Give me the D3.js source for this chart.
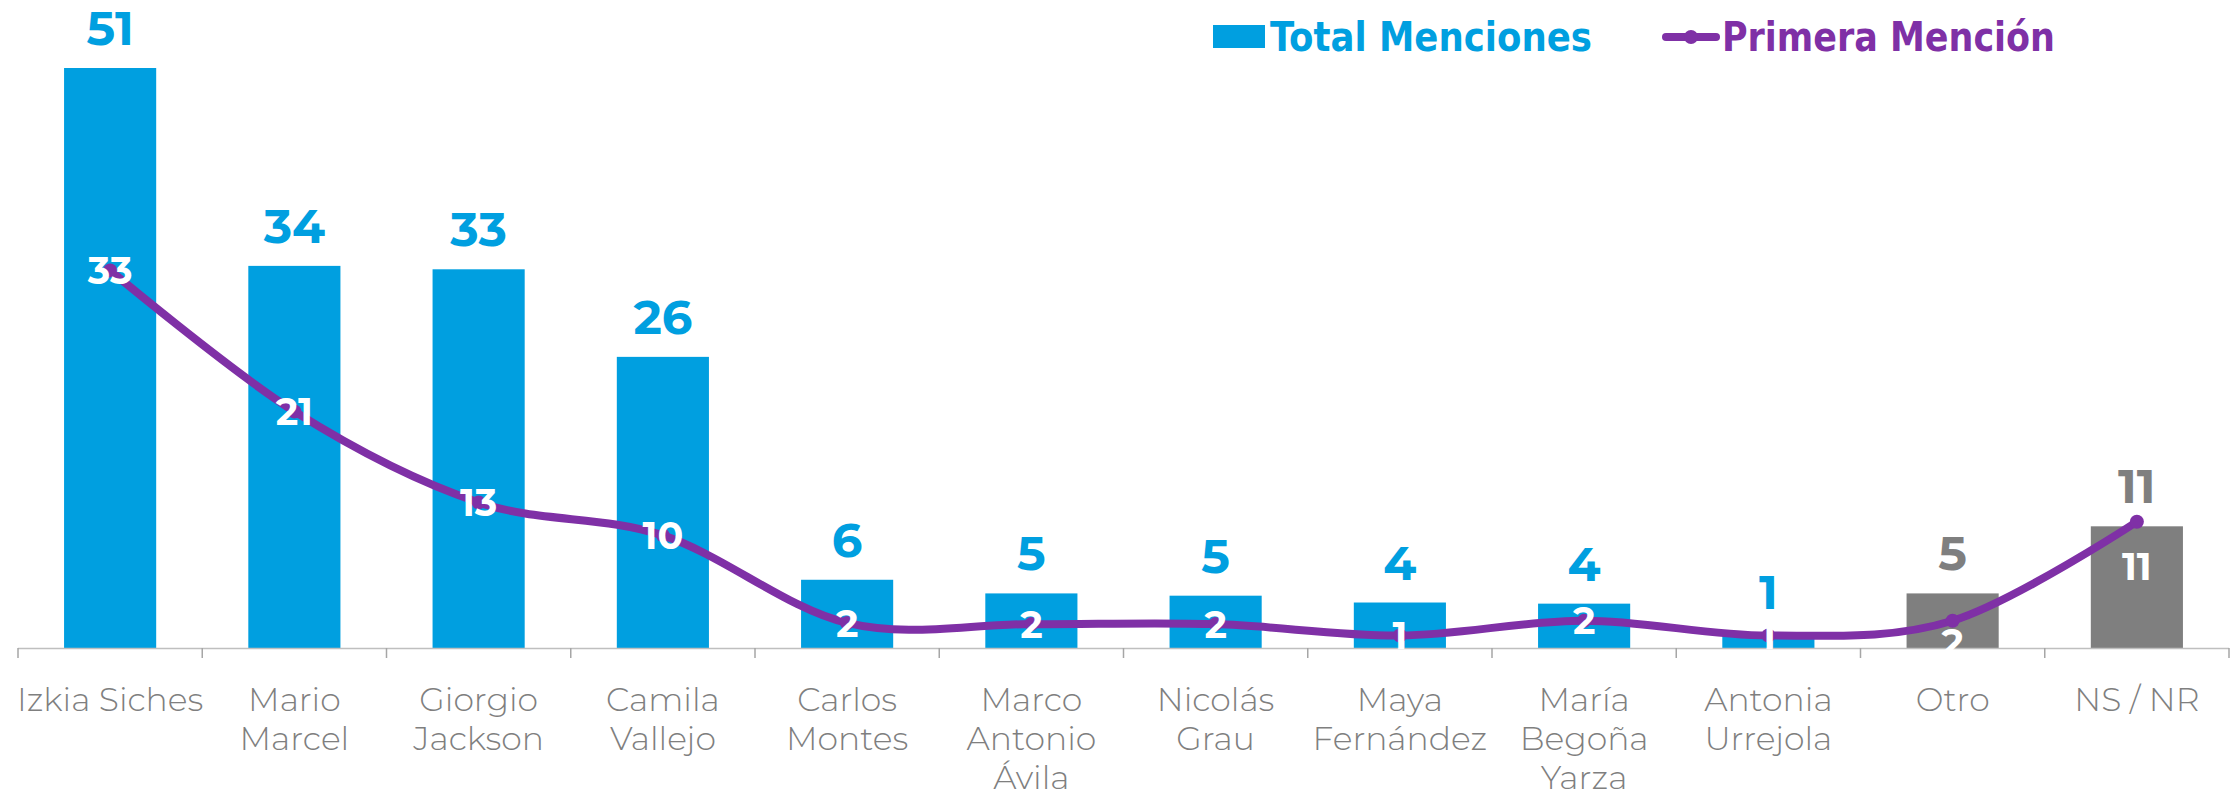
<!DOCTYPE html>
<html>
<head>
<meta charset="utf-8">
<script src="https://cdn.jsdelivr.net/npm/d3@7"></script>
<style>
  html, body { margin: 0; padding: 0; background: #fff; }
</style>
</head>
<body>
<div id="chart"></div>
<script>
const categories = ["Izkia Siches", "Mario Marcel", "Giorgio Jackson", "Camila Vallejo", "Carlos Montes",
  "Marco Antonio Ávila", "Nicolás Grau", "Maya Fernández", "María Begoña Yarza", "Antonia Urrejola",
  "Otro", "NS / NR"];
const catLines = [["Izkia Siches"], ["Mario", "Marcel"], ["Giorgio", "Jackson"], ["Camila", "Vallejo"],
  ["Carlos", "Montes"], ["Marco", "Antonio", "Ávila"], ["Nicolás", "Grau"], ["Maya", "Fernández"],
  ["María", "Begoña", "Yarza"], ["Antonia", "Urrejola"], ["Otro"], ["NS / NR"]];
const totalMenciones = [51, 33.6, 33.3, 25.6, 6.0, 4.8, 4.6, 4.0, 3.9, 1.4, 4.8, 10.7];
const primeraMencion = [33.2, 20.8, 12.8, 9.9, 2.2, 2.1, 2.1, 1.1, 2.4, 1.1, 2.4, 11.1];
const grayCats = ["Otro", "NS / NR"];
const seriesNames = ["Total Menciones", "Primera Mención"];

const width = 2234;
const height = 792;

const BLUE = "#009FE0";
const GRAY = "#7F7F7F";
const PURPLE = "#7F30A6";
const NUM_FONT = "Montserrat, 'Open Sans', sans-serif";

const svg = d3.select("#chart")
  .append("svg")
  .attr("width", width)
  .attr("height", height);

const x = d3.scaleBand()
  .domain(categories)
  .range([18, 2229]);

const y = d3.scaleLinear()
  .domain([0, d3.max(totalMenciones)])
  .range([648, 68]);

const fmt = d3.format(".0f");
const barW = x.bandwidth() * 0.5;
const cx = c => x(c) + x.bandwidth() / 2;

// a couple of line labels sit below their point in the original
const lineLabelDy = { "Otro": 22, "NS / NR": 45 };

const data = categories.map((c, i) => ({
  cat: c,
  lines: catLines[i],
  total: totalMenciones[i],
  first: primeraMencion[i],
  gray: grayCats.includes(c)
}));

// bars
svg.append("g")
  .selectAll("rect")
  .data(data)
  .enter()
  .append("rect")
  .attr("x", d => cx(d.cat) - barW / 2)
  .attr("y", d => y(d.total))
  .attr("width", barW)
  .attr("height", d => y(0) - y(d.total))
  .attr("fill", d => d.gray ? GRAY : BLUE);

// axis
const axis = svg.append("g");
axis.append("line")
  .attr("x1", x.range()[0])
  .attr("x2", x.range()[1])
  .attr("y1", y(0) + 0.5)
  .attr("y2", y(0) + 0.5)
  .attr("stroke", "#BFBFBF")
  .attr("stroke-width", 1.5);

const bounds = d3.range(categories.length + 1).map(i => x.range()[0] + i * x.step());
axis.selectAll("line.tick")
  .data(bounds)
  .enter()
  .append("line")
  .attr("class", "tick")
  .attr("x1", d => d)
  .attr("x2", d => d)
  .attr("y1", y(0))
  .attr("y2", y(0) + 10)
  .attr("stroke", "#A6A6A6")
  .attr("stroke-width", 1.5);

// category labels
const catText = svg.append("g")
  .selectAll("text")
  .data(data)
  .enter()
  .append("text")
  .attr("text-anchor", "middle")
  .attr("fill", GRAY)
  .style("font-family", NUM_FONT)
  .style("font-weight", 300)
  .style("font-size", "33px");

catText.selectAll("tspan")
  .data(d => d.lines.map(l => ({ l, x: cx(d.cat) })))
  .enter()
  .append("tspan")
  .attr("x", d => d.x)
  .attr("y", (d, i) => 711 + i * 39)
  .text(d => d.l);

// bar value labels
svg.append("g")
  .selectAll("text")
  .data(data)
  .enter()
  .append("text")
  .attr("x", d => cx(d.cat))
  .attr("y", d => y(d.total) - 23)
  .attr("text-anchor", "middle")
  .attr("fill", d => d.gray ? GRAY : BLUE)
  .style("font-family", NUM_FONT)
  .style("font-weight", 700)
  .style("font-size", "48px")
  .text(d => fmt(d.total));

// line
const line = d3.line()
  .x(d => cx(d.cat))
  .y(d => y(d.first))
  .curve(d3.curveCardinal.tension(0));

svg.append("path")
  .datum(data)
  .attr("d", line)
  .attr("fill", "none")
  .attr("stroke", PURPLE)
  .attr("stroke-width", 8)
  .attr("stroke-linecap", "round");

svg.append("g")
  .selectAll("circle")
  .data(data)
  .enter()
  .append("circle")
  .attr("cx", d => cx(d.cat))
  .attr("cy", d => y(d.first))
  .attr("r", 7)
  .attr("fill", PURPLE);

// line value labels
svg.append("g")
  .selectAll("text")
  .data(data)
  .enter()
  .append("text")
  .attr("x", d => cx(d.cat))
  .attr("y", d => y(d.first) + (lineLabelDy[d.cat] || 0))
  .attr("dy", "0.36em")
  .attr("text-anchor", "middle")
  .attr("fill", "#fff")
  .style("font-family", NUM_FONT)
  .style("font-weight", 700)
  .style("font-size", "38px")
  .text(d => fmt(d.first));

// legend
const legend = svg.append("g")
  .style("font-family", "'DejaVu Sans Condensed', 'DejaVu Sans', sans-serif")
  .style("font-stretch", "condensed")
  .style("font-weight", 700)
  .style("font-size", "40px");

legend.append("rect")
  .attr("x", 1213)
  .attr("y", 25)
  .attr("width", 52)
  .attr("height", 23)
  .attr("fill", BLUE);

legend.append("text")
  .attr("x", 1270)
  .attr("y", 51)
  .attr("fill", BLUE)
  .attr("textLength", 322)
  .attr("lengthAdjust", "spacingAndGlyphs")
  .text(seriesNames[0]);

legend.append("line")
  .attr("x1", 1666)
  .attr("x2", 1716)
  .attr("y1", 37)
  .attr("y2", 37)
  .attr("stroke", PURPLE)
  .attr("stroke-width", 8)
  .attr("stroke-linecap", "round");

legend.append("circle")
  .attr("cx", 1691)
  .attr("cy", 37)
  .attr("r", 7)
  .attr("fill", PURPLE);

legend.append("text")
  .attr("x", 1722)
  .attr("y", 51)
  .attr("fill", PURPLE)
  .attr("textLength", 333)
  .attr("lengthAdjust", "spacingAndGlyphs")
  .text(seriesNames[1]);
</script>
</body>
</html>
